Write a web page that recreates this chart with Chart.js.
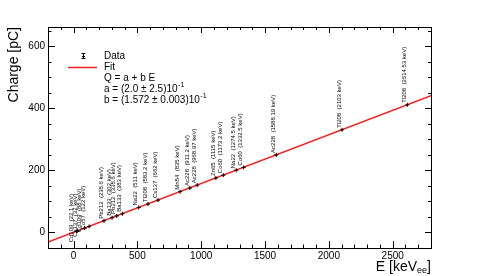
<!DOCTYPE html>
<html lang="en">
<head>
<meta charset="UTF-8">
<title>Charge vs Energy</title>
<script src="https://cdn.jsdelivr.net/npm/chart.js"></script>
<style>
  body { margin: 0; background: #fff; }
  canvas { display: block; }
</style>
</head>
<body>
<canvas id="calib" width="479" height="276"></canvas>
<script>
    // Calibration lines (source, energy label, energy in keV, measured charge in pC)
    const sources = ['Cd109', 'Cs137', 'Cd109', 'Co57', 'Pb212', 'Ba133', 'Pb212', 'Ba133', 'Na22', 'Tl208', 'Cs137',
                     'Mn54', 'Ac228', 'Ac228', 'Zn65', 'Co60', 'Na22', 'Co60', 'Ac228', 'Tl208', 'Tl208'];
    const energyText = ['22.1', '32', '88', '122', '238.6', '302', '338.6', '383', '511', '583.2', '662',
                        '835', '911.2', '968.97', '1115', '1173.2', '1274.5', '1332.5', '1588.19', '2103', '2614.53'];
    const energies = [22.1, 32, 88, 122, 238.6, 302, 338.6, 383, 511, 583.2, 662,
                      835, 911.2, 968.97, 1115, 1173.2, 1274.5, 1332.5, 1588.19, 2103, 2614.53];
    const charges = [3.7, 5.2, 14.0, 19.4, 37.7, 47.7, 53.4, 60.4, 80.5, 91.9, 104.3,
                     131.5, 143.4, 152.5, 175.5, 184.6, 200.6, 209.7, 249.9, 330.8, 411.2];

    // Fit line end points
    const fitE = [-200, 2800];
    const fitQ = [-31.2, 440.4];

    // Axis ranges and labelled ticks
    const xRange = [-200, 2800];
    const yRange = [-50, 662];
    const xTicks = [0, 500, 1000, 1500, 2000, 2500];
    const yTicks = [0, 200, 400, 600];

    const FONT = '"Liberation Sans", Arial, Helvetica, sans-serif';

    // small nudges for the crowded low energy labels (pixels)
    const labelNudge = {0: [-2, 13], 1: [1, 8], 2: [-2, 6], 3: [-3, 5]};

    const framePlugin = {
        id: 'frame',
        afterDatasetsDraw(chart) {
            const ctx = chart.ctx;
            const a = chart.chartArea;
            const xs = chart.scales.x, ys = chart.scales.y;
            ctx.save();
            ctx.strokeStyle = '#000';
            ctx.lineWidth = 1;

            // point labels
            ctx.fillStyle = '#000';
            ctx.font = '6px ' + FONT;
            ctx.textAlign = 'left';
            ctx.textBaseline = 'middle';
            energies.forEach((e, i) => {
                const px = xs.getPixelForValue(e);
                const py = ys.getPixelForValue(charges[i]);
                const n = labelNudge[i] || [0, 0];
                ctx.save();
                ctx.translate(px - 3 + n[0], py - 2 + n[1]);
                ctx.rotate(-Math.PI / 2);
                ctx.fillText(sources[i] + '  (' + energyText[i] + ' keV)', 0, 0);
                ctx.restore();
            });

            // frame
            ctx.strokeRect(Math.round(a.left) + 0.5, Math.round(a.top) + 0.5,
                Math.round(a.right - a.left), Math.round(a.bottom - a.top));

            ctx.beginPath();
            // x ticks (inward, bottom and top)
            for (let v = xRange[0]; v <= xRange[1]; v += 100) {
                const p = Math.round(xs.getPixelForValue(v)) + 0.5;
                const len = (v % 500 === 0) ? 7 : 3.5;
                ctx.moveTo(p, a.bottom); ctx.lineTo(p, a.bottom - len);
                ctx.moveTo(p, a.top); ctx.lineTo(p, a.top + len * 0.85);
            }
            // y ticks (inward, left and right)
            for (let v = yRange[0]; v <= yRange[1]; v += 50) {
                const p = Math.round(ys.getPixelForValue(v)) + 0.5;
                const len = (v % 200 === 0) ? 7 : 3.5;
                ctx.moveTo(a.left, p); ctx.lineTo(a.left + len, p);
                ctx.moveTo(a.right, p); ctx.lineTo(a.right - len * 0.85, p);
            }
            ctx.stroke();

            // axis titles
            ctx.font = '14px ' + FONT;
            ctx.textBaseline = 'middle';
            ctx.save();
            ctx.translate(14, a.top);
            ctx.rotate(-Math.PI / 2);
            ctx.textAlign = 'right';
            ctx.fillText('Charge [pC]', 0, 0);
            ctx.restore();

            ctx.textBaseline = 'alphabetic';
            ctx.textAlign = 'left';
            const t1 = 'E [keV', t3 = ']';
            ctx.font = '14px ' + FONT;
            const w1 = ctx.measureText(t1).width, w3 = ctx.measureText(t3).width;
            ctx.font = '9px ' + FONT;
            const w2 = ctx.measureText('ee').width;
            let x0 = a.right - (w1 + w2 + w3);
            const yb = 271;
            ctx.font = '14px ' + FONT;
            ctx.fillText(t1, x0, yb);
            ctx.font = '9px ' + FONT;
            ctx.fillText('ee', x0 + w1, yb + 2);
            ctx.font = '14px ' + FONT;
            ctx.fillText(t3, x0 + w1 + w2, yb);

            // legend
            ctx.lineWidth = 1;
            ctx.beginPath();
            ctx.moveTo(83.5, 53); ctx.lineTo(83.5, 59);
            ctx.moveTo(81.5, 53.5); ctx.lineTo(85.5, 53.5);
            ctx.moveTo(81.5, 58.5); ctx.lineTo(85.5, 58.5);
            ctx.moveTo(82, 56.5); ctx.lineTo(85, 56.5);
            ctx.stroke();
            ctx.strokeStyle = '#f41f1f';
            ctx.lineWidth = 1.5;
            ctx.beginPath();
            ctx.moveTo(68, 67.5); ctx.lineTo(97, 67.5);
            ctx.stroke();

            ctx.font = '10px ' + FONT;
            ctx.textBaseline = 'middle';
            const tx = 104;
            ctx.fillText('Data', tx, 56);
            ctx.fillText('Fit', tx, 67);
            ctx.fillText('Q = a + b E', tx, 78);
            const sup = (txt, x, y) => {
                ctx.font = '10px ' + FONT;
                ctx.fillText(txt, x, y);
                const w = ctx.measureText(txt).width;
                ctx.font = '7px ' + FONT;
                ctx.fillText('-1', x + w + 0.5, y - 4);
            };
            sup('a = (2.0 \u00b1 2.5)10', tx, 89);
            sup('b = (1.572 \u00b1 0.003)10', tx, 100);
            ctx.restore();
        }
    };

    new Chart(document.getElementById('calib'), {
        type: 'scatter',
        data: {
            datasets: [
                {
                    label: 'Data',
                    data: energies.map((e, i) => ({x: e, y: charges[i]})),
                    pointStyle: 'cross',
                    radius: 2,
                    borderWidth: 1,
                    borderColor: '#000',
                    backgroundColor: '#000',
                    order: 0
                },
                {
                    label: 'Fit',
                    type: 'line',
                    data: fitE.map((e, i) => ({x: e, y: fitQ[i]})),
                    borderColor: '#f41f1f',
                    borderWidth: 1.5,
                    pointRadius: 0,
                    fill: false,
                    order: 1
                }
            ]
        },
        options: {
            responsive: false,
            devicePixelRatio: 1,
            animation: false,
            layout: {padding: {top: 27, right: 48, left: 0, bottom: 0}},
            plugins: {legend: {display: false}, tooltip: {enabled: false}},
            scales: {
                x: {
                    type: 'linear',
                    min: xRange[0], max: xRange[1],
                    grid: {display: false, drawTicks: false, tickLength: 0},
                    border: {display: false},
                    afterBuildTicks: s => { s.ticks = xTicks.map(v => ({value: v})); },
                    ticks: {padding: 2, color: '#000', maxRotation: 0, autoSkip: false,
                            callback: v => String(v), font: {family: FONT, size: 10}},
                    afterFit: s => { s.height = 28; }
                },
                y: {
                    type: 'linear',
                    min: yRange[0], max: yRange[1],
                    grid: {display: false, drawTicks: false, tickLength: 0},
                    border: {display: false},
                    afterBuildTicks: s => { s.ticks = yTicks.map(v => ({value: v})); },
                    ticks: {padding: 3, color: '#000', autoSkip: false,
                            callback: v => String(v), font: {family: FONT, size: 10}},
                    afterFit: s => { s.width = 48; }
                }
            }
        },
        plugins: [framePlugin]
    });
</script>
</body>
</html>
